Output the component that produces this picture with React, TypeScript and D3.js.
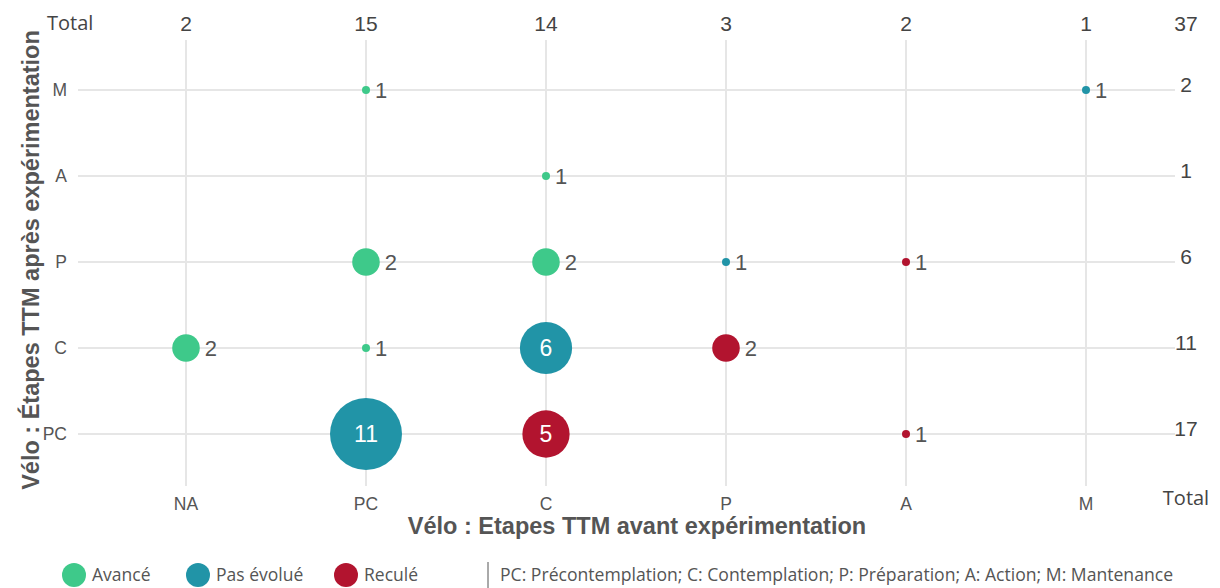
import React from "react";
import * as d3 from "d3";

const beforeStages = ["NA", "PC", "C", "P", "A", "M"];
const afterStages = ["M", "A", "P", "C", "PC"];
const statusNames = ["Avancé", "Pas évolué", "Reculé"];
const statusColors = ["#3EC98A", "#2194A7", "#B2142F"];

const pointBefore = ["PC", "M", "C", "PC", "C", "P", "A", "NA", "PC", "C", "P", "PC", "C", "A"];
const pointAfter = ["M", "M", "A", "P", "P", "P", "P", "C", "C", "C", "C", "PC", "PC", "PC"];
const pointCount = [1, 1, 1, 2, 2, 1, 1, 2, 1, 6, 2, 11, 5, 1];
const pointStatus = [0, 1, 0, 0, 0, 1, 2, 0, 0, 1, 2, 1, 2, 2];

const columnTotals = [2, 15, 14, 3, 2, 1];
const rowTotals = [2, 1, 6, 11, 17];
const grandTotal = 37;

const W = 1220;
const H = 588;

export default function App() {
  const x = d3.scalePoint<string>().domain(beforeStages).range([186, 1086]);
  const y = d3.scalePoint<string>().domain(afterStages).range([90, 434]);
  const area = d3.scaleLinear().domain([1, 2, 11]).range([16, 190, 1296]);
  const r = (v: number) => Math.sqrt(area(v));

  const numFont = "'Liberation Sans', Arial, sans-serif";
  const uiFont = "'Open Sans', 'Noto Sans', sans-serif";

  const legendX = [74, 198, 346];

  return (
    <svg
      width={W}
      height={H}
      style={{ position: "absolute", left: 0, top: 0, background: "#fff" }}
    >
      {/* grid */}
      {afterStages.map((s) => (
        <line key={"h" + s} x1={78} x2={1175} y1={y(s)} y2={y(s)} stroke="#e6e6e6" strokeWidth={2} />
      ))}
      {beforeStages.map((s) => (
        <line key={"v" + s} x1={x(s)} x2={x(s)} y1={40} y2={486} stroke="#e6e6e6" strokeWidth={2} />
      ))}

      {/* y tick labels */}
      {afterStages.map((s) => (
        <text key={"yt" + s} x={67} y={y(s)} dy="0.35em" textAnchor="end" fontFamily={numFont} fontSize={17.5} fill="#555">
          {s}
        </text>
      ))}
      {/* x tick labels */}
      {beforeStages.map((s) => (
        <text key={"xt" + s} x={x(s)} y={510} textAnchor="middle" fontFamily={numFont} fontSize={17.5} fill="#555">
          {s}
        </text>
      ))}

      {/* top totals */}
      <text x={47} y={30} fontFamily={uiFont} fontSize={20} fill="#444">Total</text>
      {beforeStages.map((s, i) => (
        <text key={"ct" + s} x={x(s)} y={31} textAnchor="middle" fontFamily={numFont} fontSize={21} fill="#444">
          {columnTotals[i]}
        </text>
      ))}
      <text x={1186} y={31} textAnchor="middle" fontFamily={numFont} fontSize={21} fill="#444">{grandTotal}</text>
      {afterStages.map((s, i) => (
        <text key={"rt" + s} x={1186} y={y(s)} dy="0.1em" textAnchor="middle" fontFamily={numFont} fontSize={21} fill="#444">
          {rowTotals[i]}
        </text>
      ))}
      <text x={1186} y={505} textAnchor="middle" fontFamily={uiFont} fontSize={20} fill="#444">Total</text>

      {/* bubbles */}
      {pointCount.map((v, i) => {
        const cx = x(pointBefore[i])!;
        const cy = y(pointAfter[i])!;
        const rr = r(v);
        const inside = v >= 5;
        return (
          <g key={"p" + i}>
            <circle cx={cx} cy={cy} r={rr} fill={statusColors[pointStatus[i]]} />
            {inside ? (
              <text x={cx} y={cy} dy="0.36em" textAnchor="middle" fontFamily={numFont} fontSize={23} fill="#fff">
                {v}
              </text>
            ) : (
              <text x={cx + rr + 5} y={cy} dy="0.36em" fontFamily={numFont} fontSize={22} fill="#555">
                {v}
              </text>
            )}
          </g>
        );
      })}

      {/* axis titles */}
      <text x={637} y={534} textAnchor="middle" fontFamily={numFont} fontWeight="bold" fontSize={23.5} fill="#555">
        Vélo : Etapes TTM avant expérimentation
      </text>
      <text
        transform={`translate(39,260) rotate(-90)`}
        textAnchor="middle"
        fontFamily={numFont}
        fontWeight="bold"
        fontSize={23.5}
        fill="#555"
      >
        Vélo : Étapes TTM après expérimentation
      </text>

      {/* legend */}
      {statusNames.map((n, i) => (
        <g key={"lg" + i}>
          <circle cx={legendX[i]} cy={575} r={12} fill={statusColors[i]} />
          <text x={legendX[i] + 18} y={581} fontFamily={uiFont} fontSize={17.5} fill="#555">
            {n}
          </text>
        </g>
      ))}
      <line x1={488} x2={488} y1={562} y2={588} stroke="#555" strokeWidth={1} />
      <text x={500} y={581} fontFamily={uiFont} fontSize={17.6} fill="#555">
        PC: Précontemplation; C: Contemplation; P: Préparation; A: Action; M: Mantenance
      </text>
    </svg>
  );
}
